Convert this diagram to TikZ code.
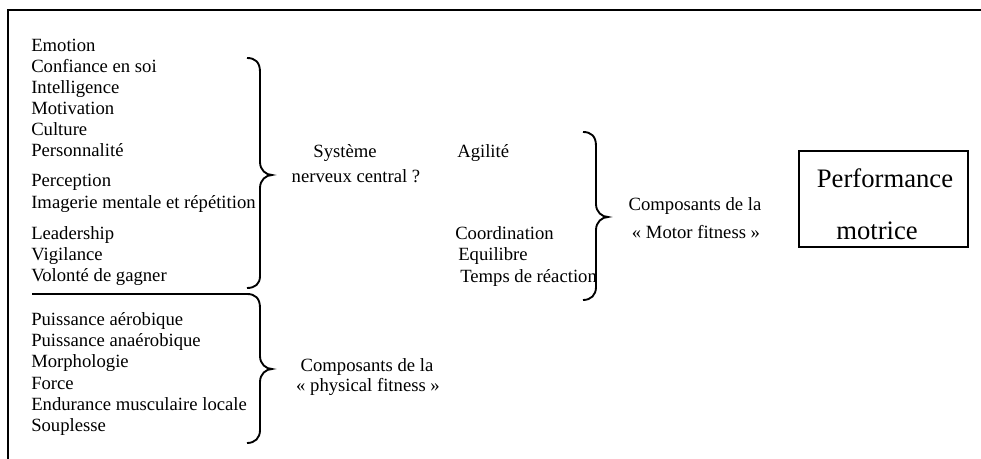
\documentclass[tikz,border=0pt]{standalone}
\usepackage{fontspec}
\setmainfont{Liberation Serif}
\begin{document}
\begin{tikzpicture}[x=0.75pt,y=-0.75pt,
  item/.style={anchor=base west,inner sep=0pt,font=\fontsize{14}{16}\selectfont},
  label/.style={anchor=base,inner sep=0pt,font=\fontsize{14}{16}\selectfont},
  big/.style={anchor=base,inner sep=0pt,font=\fontsize{20}{22}\selectfont},
  rule/.style={line width=1.5pt},
  brace/.style={line width=1.4pt}]
\useasboundingbox (0,0) rectangle (981,459);
% frame: top and left edges
\draw[rule] (981,10) -- (8,10) -- (8,459);

% psychological factors
\node[item] (emo)  at (31,52)  {Emotion};
\node[item] (conf) at (31,73)  {Confiance en soi};
\node[item] (intl) at (31,94)  {Intelligence};
\node[item] (moti) at (31,115) {Motivation};
\node[item] (cult) at (31,136) {Culture};
\node[item] (pers) at (31,157) {Personnalité};
\node[item] (perc) at (31,187) {Perception};
\node[item] (imag) at (31,209) {Imagerie mentale et répétition};
\node[item] (lead) at (31,240) {Leadership};
\node[item] (vigi) at (31,261) {Vigilance};
\node[item] (volo) at (31,282) {Volonté de gagner};

% physical factors
\node[item] (aero) at (31,326) {Puissance aérobique};
\node[item] (anae) at (31,347) {Puissance anaérobique};
\node[item] (morp) at (31,368) {Morphologie};
\node[item] (forc) at (31,389) {Force};
\node[item] (endu) at (31,410) {Endurance musculaire locale};
\node[item] (soup) at (31,431) {Souplesse};

% central labels
\node[label] (sys1) at (345,158) {Système};
\node[label] (sys2) at (356,183) {nerveux central ?};
\node[label] (phy1) at (367,372) {Composants de la};
\node[label] (phy2) at (368,392) {« physical fitness »};

% motor fitness items
\node[item] (agil) at (457,158) {Agilité};
\node[item] (coor) at (455,240) {Coordination};
\node[item] (equi) at (458,261) {Equilibre};
\node[item] (temp) at (460,283) {Temps de réaction};

\node[label] (mot1) at (695,211) {Composants de la};
\node[label] (mot2) at (696,239) {« Motor fitness »};

% result box
\draw[line width=1pt] (799,151) rectangle (968,247);
\node[big] (perf) at (885,188) {Performance};
\node[big] (motr) at (877,240) {motrice};

% braces
\draw[brace] (247,58) .. controls (255,58) and (260,62) .. (260,72)
  -- (260,162) .. controls (260,170) and (266,175) .. (272,175)
  .. controls (266,175) and (260,180) .. (260,188)
  -- (260,276) .. controls (260,284) and (255,288) .. (247,288);
\draw[brace] (32,294) -- (247,294) .. controls (255,294) and (260,298) .. (260,308)
  -- (260,356) .. controls (260,364) and (266,369) .. (272,369)
  .. controls (266,369) and (260,374) .. (260,382)
  -- (260,430) .. controls (260,438) and (255,443) .. (247,443);
\draw[brace] (583,132) .. controls (591,132) and (596,136) .. (596,146)
  -- (596,204) .. controls (596,212) and (602,217) .. (608,217)
  .. controls (602,217) and (596,222) .. (596,230)
  -- (596,287) .. controls (596,295) and (591,300) .. (583,300);
\end{tikzpicture}
\end{document}
